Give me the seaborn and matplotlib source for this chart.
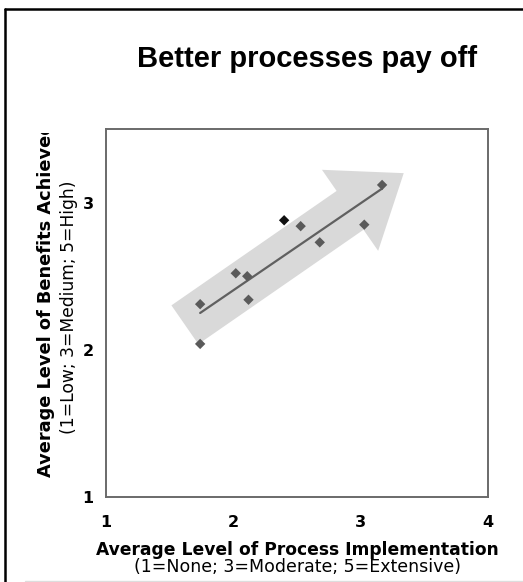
import matplotlib
matplotlib.use("Agg")
import matplotlib.pyplot as plt
import seaborn as sns
import pandas as pd
from matplotlib.patches import FancyArrowPatch, ArrowStyle
from matplotlib.lines import Line2D
from matplotlib.transforms import Bbox, TransformedBbox

# values
process_level = [1.74, 1.74, 2.02, 2.11, 2.12, 2.40, 2.53, 2.68, 3.03, 3.17]
benefit_level = [2.31, 2.04, 2.52, 2.50, 2.34, 2.88, 2.84, 2.73, 2.85, 3.12]
point_group = ["other", "other", "other", "other", "other",
               "highlight", "other", "other", "other", "other"]
tick_values = [1, 2, 3, 4]
ytick_values = [1, 2, 3]

df = pd.DataFrame({"process": process_level, "benefit": benefit_level, "group": point_group})

sns.set_style("white")
plt.rcParams["font.family"] = ["DejaVu Sans"]
plt.rcParams["text.color"] = "black"

fig = plt.figure(figsize=(5.23, 5.82), dpi=100)
W, H = 523, 582
ax = fig.add_axes([106 / W, 1 - 497 / H, (487.7 - 106) / W, (497 - 129) / H])

# the big grey "trend" arrow behind the data
arrow = FancyArrowPatch((1.62, 2.17), (3.34, 3.20),
                        arrowstyle=ArrowStyle.Simple(head_length=47, head_width=71, tail_width=34),
                        mutation_scale=1, shrinkA=0, shrinkB=0,
                        color="#d9d9d9", lw=0, zorder=1)
ax.add_patch(arrow)

sns.regplot(data=df, x="process", y="benefit", scatter=False, ci=None, truncate=True,
            line_kws=dict(color="#606060", lw=1.6, zorder=2), ax=ax)
sns.scatterplot(data=df, x="process", y="benefit", hue="group",
                palette={"other": "#5a5a5a", "highlight": "#111111"},
                marker="D", s=28, edgecolor="none", legend=False, zorder=3, ax=ax)

ax.set_xlim(1, 4)
ax.set_ylim(1, 3.5)
ax.set_xticks(tick_values)
ax.set_yticks(ytick_values)
ax.set_xticklabels([str(v) for v in tick_values], fontweight="bold", fontsize=11.5, color="black")
ax.set_yticklabels([str(v) for v in ytick_values], fontweight="bold", fontsize=11.5, color="black")
ax.tick_params(axis="x", direction="inout", length=8, width=1, color="#666666", pad=9)
ax.tick_params(axis="y", direction="out", length=5, width=1, color="#666666", pad=4)
ax.set_xlabel("")
ax.set_ylabel("")
for sp in ax.spines.values():
    sp.set_color("#6a6a6a")
    sp.set_linewidth(1.4)

# title and axis captions
fig.text(307 / W, 1 - 67 / H, "Better processes pay off", family="Liberation Sans",
         fontweight="bold", fontsize=21, ha="center", va="baseline")
fig.text(297 / W, 1 - 550 / H, "Average Level of Process Implementation",
         fontweight="bold", fontsize=12.3, ha="center", va="center")
fig.text(297 / W, 1 - 567 / H, "(1=None; 3=Moderate; 5=Extensive)",
         fontsize=12.5, ha="center", va="center")
ylab = fig.text(46 / W, 1 - 477 / H, "Average Level of Benefits Achieved", rotation=90,
                fontweight="bold", fontsize=12.8, ha="center", va="bottom")
ylab.set_clip_box(TransformedBbox(Bbox([[0, 0], [1, 1 - 133 / H]]), fig.transFigure))
ylab.set_clip_on(True)
fig.text(69 / W, 1 - 307 / H, "(1=Low; 3=Medium; 5=High)", rotation=90,
         fontsize=12.3, ha="center", va="center")

# slide frame
fig.add_artist(Line2D([4.5 / W, 4.5 / W], [0, 1 - 9 / H], color="black", lw=1.8))
fig.add_artist(Line2D([4.5 / W, 1], [1 - 9 / H, 1 - 9 / H], color="black", lw=1.8))
fig.add_artist(Line2D([25 / W, 1], [1.5 / H, 1.5 / H], color="#dddddd", lw=1))

fig.savefig("out.png", dpi=100)
